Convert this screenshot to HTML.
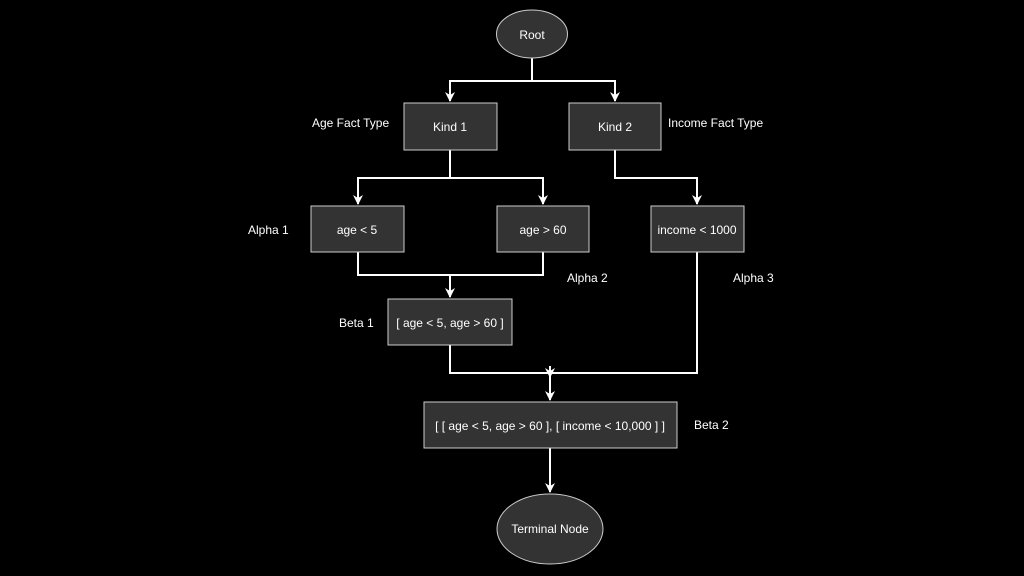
<!DOCTYPE html>
<html><head><style>html,body{margin:0;background:#000;}svg{display:block}</style></head><body>
<svg width="1024" height="576" viewBox="0 0 1024 576" xmlns="http://www.w3.org/2000/svg" font-family="Liberation Sans, Arial, sans-serif" font-size="12">
<defs><marker id="a" viewBox="0 0 10 10" refX="9" refY="5" markerWidth="5" markerHeight="5" orient="auto"><path d="M0,0 L10,5 L0,10 L3,5 z" fill="#fff"/></marker></defs>
<rect width="1024" height="576" fill="#000"/>
<g stroke="#fff" stroke-width="2" fill="none">
<path d="M532,58 V81 H450 V101" marker-end="url(#a)"/>
<path d="M532,81 H615 V101" marker-end="url(#a)"/>
<path d="M450,150 V178 H358 V204" marker-end="url(#a)"/>
<path d="M450,178 H543 V204" marker-end="url(#a)"/>
<path d="M615,150 V178 H697 V204" marker-end="url(#a)"/>
<path d="M358,252 V275 H543 V252"/>
<path d="M450,275 V297" marker-end="url(#a)"/>
<path d="M450,345 V373 H697 V252"/>
<path d="M550,366 V377" marker-end="url(#a)"/>
<path d="M550,373 V400" marker-end="url(#a)"/>
<path d="M550,448 V492" marker-end="url(#a)"/>
</g>
<g fill="#333" stroke="#ccc" stroke-width="1">
<ellipse cx="532" cy="34" rx="35.5" ry="24"/>
<rect x="404" y="103" width="93" height="47"/>
<rect x="569" y="103" width="92" height="47"/>
<rect x="311" y="206" width="93" height="46"/>
<rect x="497" y="206" width="92" height="46"/>
<rect x="651" y="206" width="93" height="46"/>
<rect x="388" y="299" width="124" height="46"/>
<rect x="424" y="402" width="253" height="46"/>
<ellipse cx="550" cy="529" rx="53" ry="35"/>
</g>
<g fill="#fff" text-anchor="middle" dominant-baseline="central">
<text x="532" y="35">Root</text>
<text x="450" y="127">Kind 1</text>
<text x="615" y="127">Kind 2</text>
<text x="357" y="230">age &lt; 5</text>
<text x="543" y="230">age &gt; 60</text>
<text x="697" y="230">income &lt; 1000</text>
<text x="450" y="323">[ age &lt; 5, age &gt; 60 ]</text>
<text x="550" y="426">[ [ age &lt; 5, age &gt; 60 ], [ income &lt; 10,000 ] ]</text>
<text x="550" y="529">Terminal Node</text>
</g>
<g fill="#fff" dominant-baseline="central">
<text x="312" y="123">Age Fact Type</text>
<text x="668" y="123">Income Fact Type</text>
<text x="248" y="230">Alpha 1</text>
<text x="567" y="278">Alpha 2</text>
<text x="733" y="278">Alpha 3</text>
<text x="339" y="323">Beta 1</text>
<text x="694" y="425">Beta 2</text>
</g>
</svg>
</body></html>
